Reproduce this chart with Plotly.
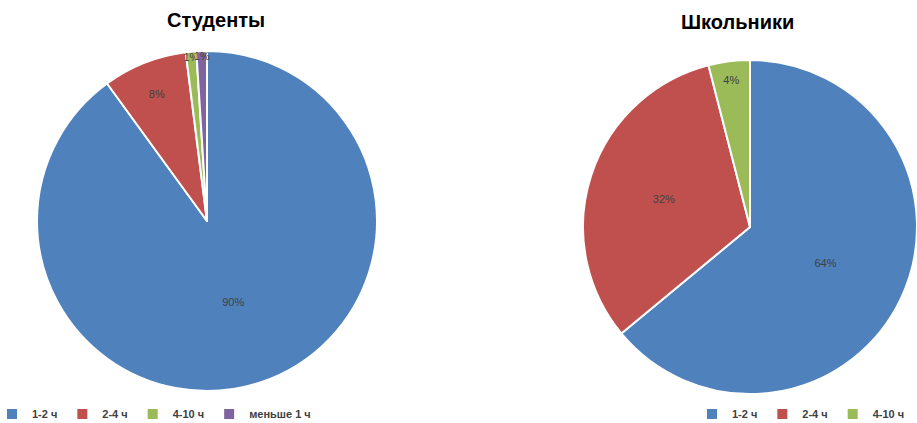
import plotly.graph_objects as go

# Data
students_labels = ["1-2 ч", "2-4 ч", "4-10 ч", "меньше 1 ч"]
students_values = [90, 8, 1, 1]
# non-breaking spaces keep the labels distinct from the left pie so both legends show
pupils_labels = ["1-2\u00a0ч", "2-4\u00a0ч", "4-10\u00a0ч"]
pupils_values = [64, 32, 4]
colors = ["#4F81BD", "#C0504D", "#9BBB59", "#8064A2"]
titles = ["Студенты", "Школьники"]

W, H = 917, 423

def dom(cx, cy, r):
    # cx, cy in pixels from top-left
    yb = H - cy
    return dict(x=[max(0, (cx - r) / W), min(1, (cx + r) / W)],
                y=[max(0, (yb - r) / H), min(1, (yb + r) / H)])

txtfont = dict(family="Liberation Sans", size=11, color="#404040")
legfont = dict(family="Liberation Sans", size=11, color="#404040", weight="bold")

fig = go.Figure()
fig.add_trace(go.Pie(
    labels=students_labels, values=students_values,
    marker=dict(colors=colors, line=dict(color="white", width=2)),
    sort=False, direction="clockwise", rotation=0,
    textinfo="percent", textposition="inside",
    insidetextorientation="horizontal",
    textfont=txtfont,
    domain=dom(207, 221, 170), legend="legend", hoverinfo="label+percent",
))
fig.add_trace(go.Pie(
    labels=pupils_labels, values=pupils_values,
    marker=dict(colors=colors[:3], line=dict(color="white", width=2)),
    sort=False, direction="clockwise", rotation=0,
    textinfo="percent", textposition="inside",
    insidetextorientation="horizontal",
    textfont=txtfont,
    domain=dom(750, 227, 167), legend="legend2", hoverinfo="label+percent",
))

fig.update_layout(
    width=W, height=H,
    margin=dict(l=0, r=0, t=0, b=0, autoexpand=False),
    paper_bgcolor="white",
    uniformtext=dict(minsize=11, mode="show"),
    legend=dict(orientation="h", x=-8 / W, xanchor="left", y=(H - 414) / H, yanchor="middle",
                font=legfont, itemwidth=30, traceorder="normal",
                bgcolor="rgba(0,0,0,0)"),
    legend2=dict(orientation="h", x=692 / W, xanchor="left", y=(H - 414) / H, yanchor="middle",
                 font=legfont, itemwidth=30, traceorder="normal",
                 bgcolor="rgba(0,0,0,0)"),
    annotations=[
        dict(text="<b>" + titles[0] + "</b>", x=216 / W, y=(H - 20) / H, xref="paper", yref="paper",
             xanchor="center", yanchor="middle",
             showarrow=False, font=dict(family="Liberation Sans", size=20, color="black")),
        dict(text="<b>" + titles[1] + "</b>", x=737 / W, y=(H - 22) / H, xref="paper", yref="paper",
             xanchor="center", yanchor="middle",
             showarrow=False, font=dict(family="Liberation Sans", size=20, color="black")),
    ],
)

fig.write_html("out.html")
